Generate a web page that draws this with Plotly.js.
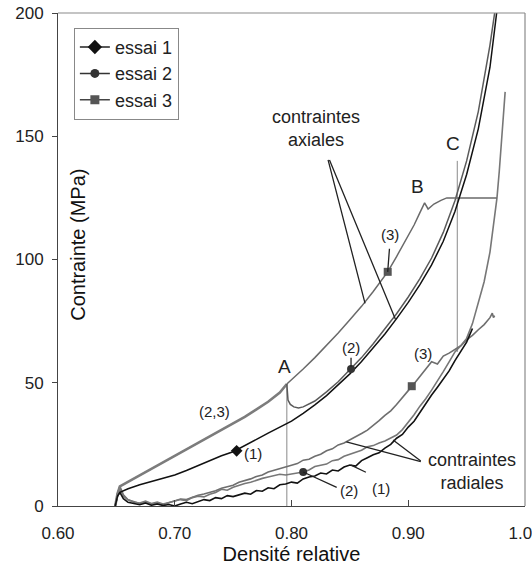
<!DOCTYPE html>
<html>
<head>
<meta charset="utf-8">
<script src="https://cdn.plot.ly/plotly-3.0.1.min.js"></script>
<style>html,body{margin:0;padding:0;background:#fff;}#chart{width:532px;height:568px;}</style>
</head>
<body>
<div id="chart"></div>
<script>
// ---- Axial stress, essai 1 (black) ----
const axial1_x = [0.649,0.651,0.653,0.66,0.67,0.68,0.69,0.70,0.71,0.72,0.73,0.74,0.75,0.76,0.77,0.78,0.79,0.80,0.81,0.82,0.83,0.84,0.85,0.86,0.87,0.88,0.89,0.90,0.91,0.92,0.93,0.94,0.95,0.96,0.97,0.975,0.977];
const axial1_y = [0,4,5.5,7,8.6,10,11.2,12.6,14.4,16.4,18.4,20.4,22,24.4,27,29.6,32,34.4,37.6,41,44.8,49,53.6,58.6,64,69.8,76,82.6,89.8,97.8,107.4,119.5,134.5,153,178,196,205];

// ---- Axial stress, essais 2 & 3 (common part up to point A) ----
const axial23_x = [0.649,0.651,0.653,0.66,0.67,0.68,0.69,0.70,0.71,0.72,0.73,0.74,0.75,0.76,0.77,0.78,0.79,0.796];
const axial23_y = [0,5,8,9.8,12.6,15.2,17.8,20.4,23,25.6,28.2,30.8,33.4,36.2,39.2,42.3,46,49.5];

// ---- Axial stress, essai 2 after A ----
const axial2_x = [0.797,0.799,0.802,0.806,0.81,0.82,0.83,0.84,0.85,0.86,0.87,0.88,0.89,0.90,0.91,0.92,0.93,0.94,0.95,0.96,0.97,0.974,0.976];
const axial2_y = [43,41.2,40.2,39.8,40.2,42.6,46.3,50.4,55.1,60.2,65.8,71.7,78,84.8,92.2,100.6,111,123.8,140,160,187,200,208];

// ---- Axial stress, essai 3 after A (B, plateau) ----
const axial3_x = [0.80,0.81,0.82,0.83,0.84,0.85,0.86,0.87,0.8824,0.89,0.90,0.905,0.91,0.914,0.917,0.922,0.928,0.933,0.976];
const axial3_y = [51.2,55.6,60.2,65,70.2,75.6,81,87,95,101.2,109.6,114,119,123,120.5,122.5,124,125,125];

// ---- Radial stress, essai 1 (black) ----
const radial1_x = [0.649,0.651,0.653,0.656,
  0.660,0.665,0.670,0.675,0.680,0.685,0.690,0.695,
  0.700,0.705,0.710,0.715,0.720,0.725,0.730,0.735,0.740,0.745,
  0.750,0.755,0.760,0.765,0.770,0.775,0.780,0.785,0.790,0.795,
  0.800,0.805,0.810,0.815,0.820,0.825,0.830,0.835,0.840,0.845,
  0.850,0.855,0.860,0.865,0.870,0.875,0.880,0.885,0.890,0.895,
  0.900,0.905,0.910,0.915,0.920,0.925,0.930,0.935,0.940,0.945,
  0.950,0.955];
const radial1_y = [0,4,5.5,3,
  1.5,1.0,0.5,1.2,0.3,0.8,0.2,0.6,
  0.0,0.8,1.5,0.9,1.8,2.6,2.2,3.4,3.0,4.2,
  3.8,4.6,5.2,4.8,6.3,6.0,7.4,7.0,8.6,8.9,
  9.7,9.3,11.0,11.8,12.2,13.4,13.0,14.6,14.2,15.8,
  16.6,16.2,18.4,19.6,20.8,21.6,23.5,25.0,27.5,29.0,
  32.0,34.4,38.0,41.5,45.0,48.2,51.5,54.8,59.0,63.0,
  66.5,72.0];

// ---- Radial stress, essai 2 (grey) ----
const radial2_x = [0.649,0.651,0.653,0.656,
  0.660,0.665,0.670,0.675,0.680,0.685,0.690,0.695,
  0.700,0.705,0.710,0.715,0.720,0.725,0.730,0.735,0.740,0.745,
  0.750,0.755,0.760,0.765,0.770,0.775,0.780,0.785,0.790,0.795,
  0.800,0.805,0.810,0.815,0.820,0.825,0.830,0.835,0.840,0.845,
  0.850,0.855,0.860,0.865,0.870,0.875,0.880,0.885,0.890,0.895,
  0.900,0.905,0.910,0.915,0.920,0.925,0.930,0.935,0.940,0.945,
  0.950,0.955,0.960,0.965,0.970,
  0.973,0.976,0.978,0.980,0.983];
const radial2_y = [0,5,7,4,
  2.5,1.5,1.2,2.0,1.0,1.6,0.8,1.5,
  2.0,2.6,2.2,3.4,4.0,3.7,4.8,5.5,6.8,6.4,
  7.6,8.4,9.1,9.6,10.5,11.2,11.8,12.4,12.9,12.6,
  13.0,13.3,13.8,14.6,16.0,16.5,17.0,18.4,18.8,20.2,
  21.0,21.8,22.6,24.0,24.5,25.6,26.4,27.6,28.8,31.0,
  34.0,37.0,40.5,43.5,47.0,50.5,54.5,58.5,62.5,65.0,
  68.0,74.0,82.0,91.0,103.0,
  113,125,136,148,168];

// ---- Radial stress, essai 3 (grey) ----
const radial3_x = [0.649,0.651,0.653,0.656,
  0.660,0.665,0.670,0.675,0.680,0.685,0.690,0.695,
  0.700,0.705,0.710,0.715,0.720,0.725,0.730,0.735,0.740,0.745,
  0.750,0.755,0.760,0.765,0.770,0.775,0.780,0.785,0.790,0.795,
  0.800,0.805,0.810,0.815,0.820,0.825,0.830,0.835,0.840,0.845,
  0.850,0.855,0.860,0.865,0.870,0.875,0.880,0.885,0.890,0.895,
  0.900,0.905,0.910,0.915,0.920,0.925,0.930,0.935,0.940,0.945,
  0.950,0.955,0.960,0.965,0.970,
  0.972,0.973,0.974];
const radial3_y = [0,5,8,4.5,
  2.5,1.8,1.0,1.5,0.8,1.2,0.5,1.3,
  2.2,2.8,2.6,3.6,4.4,4.9,5.4,6.2,7.2,7.8,
  8.4,9.6,10.2,11.0,12.0,12.6,13.8,14.4,15.2,15.8,
  16.5,17.2,18.6,19.0,20.2,21.0,22.4,23.2,24.8,25.6,
  26.8,28.0,29.4,30.8,32.6,34.6,36.8,38.6,41.2,43.8,
  46.8,49.6,52.5,55.5,58.5,57.6,60.8,62.0,63.6,65.0,
  67.4,69.2,71.5,73.6,76.4,
  78.2,76.4,77.2];

// ---- Marker points (one per curve) ----
const mark1_x = [0.753],        mark1_y = [22.4];
const mark2_x = [0.851, 0.810], mark2_y = [55.6, 13.8];
const mark3_x = [0.8824, 0.903], mark3_y = [95, 48.6];

// ---- Reference lines at A and C ----
const lineA_x = [0.796, 0.796], lineA_y = [0, 49.5];
const lineC_x = [0.942, 0.942], lineC_y = [62.5, 140];

// ---- Ticks ----
const xTicks = [0.6, 0.7, 0.8, 0.9, 1.0];
const xTickText = ['0.60', '0.70', '0.80', '0.90', '1.00'];
const yTicks = [0, 50, 100, 150, 200];
const yTickText = ['0', '50', '100', '150', '200'];

// ---- Labels ----
const seriesNames = ['essai 1', 'essai 2', 'essai 3'];

const FONT = 'Liberation Sans, Arial, sans-serif';

const traces = [
  {x: lineA_x, y: lineA_y, mode: 'lines', line: {color: '#8a8a8a', width: 1}, showlegend: false, hoverinfo: 'skip'},
  {x: lineC_x, y: lineC_y, mode: 'lines', line: {color: '#8a8a8a', width: 1}, showlegend: false, hoverinfo: 'skip'},
  {x: radial3_x, y: radial3_y, mode: 'lines', line: {color: '#6e6e6e', width: 1.6}, showlegend: false},
  {x: radial2_x, y: radial2_y, mode: 'lines', line: {color: '#777777', width: 1.6}, showlegend: false},
  {x: radial1_x, y: radial1_y, mode: 'lines', line: {color: '#111111', width: 1.6}, showlegend: false},
  {x: axial23_x, y: axial23_y, mode: 'lines', line: {color: '#7c7c7c', width: 2.6}, showlegend: false},
  {x: [axial23_x[axial23_x.length-1]].concat(axial2_x), y: [axial23_y[axial23_y.length-1]].concat(axial2_y), mode: 'lines', line: {color: '#5a5a5a', width: 1.5}, showlegend: false},
  {x: [axial23_x[axial23_x.length-1]].concat(axial3_x), y: [axial23_y[axial23_y.length-1]].concat(axial3_y), mode: 'lines', line: {color: '#6a6a6a', width: 1.5}, showlegend: false},
  {x: axial1_x, y: axial1_y, mode: 'lines', line: {color: '#111111', width: 1.5}, showlegend: false},
  {x: mark1_x, y: mark1_y, mode: 'markers', marker: {symbol: 'diamond', size: 9, color: '#111'}, showlegend: false},
  {x: mark2_x, y: mark2_y, mode: 'markers', marker: {symbol: 'circle', size: 8, color: '#333'}, showlegend: false},
  {x: mark3_x, y: mark3_y, mode: 'markers', marker: {symbol: 'square', size: 8, color: '#555'}, showlegend: false},
  // legend entries
  {x: [null], y: [null], name: seriesNames[0], mode: 'lines+markers', line: {color: '#222', width: 1.5}, marker: {symbol: 'diamond', size: 11, color: '#111'}},
  {x: [null], y: [null], name: seriesNames[1], mode: 'lines+markers', line: {color: '#333', width: 1.5}, marker: {symbol: 'circle', size: 9, color: '#333'}},
  {x: [null], y: [null], name: seriesNames[2], mode: 'lines+markers', line: {color: '#444', width: 1.5}, marker: {symbol: 'square', size: 9, color: '#555'}}
];

function lbl(x, y, text, size) {
  return {x: x, y: y, xref: 'x', yref: 'y', text: text, showarrow: false,
          font: {family: FONT, size: size || 15, color: '#222'}};
}
function leader(x0, y0, x1, y1) {
  return {x: x1, y: y1, ax: x0, ay: y0, xref: 'x', yref: 'y', axref: 'x', ayref: 'y',
          text: '', showarrow: true, arrowhead: 0, arrowwidth: 1.3, arrowcolor: '#222',
          standoff: 0, startstandoff: 0};
}

const annotations = [
  lbl(0.794, 56.5, 'A', 19),
  lbl(0.908, 129.5, 'B', 19),
  lbl(0.938, 147, 'C', 19),
  lbl(0.821, 153, 'contraintes<br>axiales', 18),
  lbl(0.955, 14.2, 'contraintes<br>radiales', 18),
  lbl(0.734, 38.5, '(2,3)', 15),
  lbl(0.767, 21.5, '(1)', 15),
  lbl(0.851, 64.5, '(2)', 15),
  lbl(0.884, 110, '(3)', 15),
  lbl(0.913, 61.7, '(3)', 15),
  lbl(0.849, 6.1, '(2)', 15),
  lbl(0.877, 7.3, '(1)', 15),
  leader(0.831, 141, 0.863, 82.2),
  leader(0.832, 141, 0.889, 75.8),
  leader(0.884, 105, 0.8824, 95),
  leader(0.851, 60.8, 0.851, 56.5),
  leader(0.912, 17.8, 0.847, 26),
  leader(0.912, 17.8, 0.887, 26.8),
  leader(0.840, 7.3, 0.810, 13.8),
  leader(0.865, 13.4, 0.851, 16.6),
  {x: 0.043, y: 0.53, xref: 'paper', yref: 'paper', xanchor: 'center', yanchor: 'middle',
   text: 'Contrainte (MPa)', textangle: -90,
   showarrow: false, font: {family: FONT, size: 20, color: '#111'}}
];

const layout = {
  width: 532, height: 568,
  margin: {l: 58, r: 7, t: 13, b: 62},
  paper_bgcolor: '#fff', plot_bgcolor: '#fff',
  font: {family: FONT, color: '#222'},
  xaxis: {
    range: [0.6, 1.0], tickvals: xTicks, ticktext: xTickText,
    ticks: 'inside', ticklen: 6, tickcolor: '#444', showline: true, linecolor: '#444', linewidth: 1,
    showgrid: false, zeroline: false, tickfont: {family: FONT, size: 17, color: '#222'},
    ticklabelstandoff: 12, ticklabeloverflow: 'allow',
    title: {text: 'Densité relative', font: {family: FONT, size: 20, color: '#111'}, standoff: 0}
  },
  yaxis: {
    range: [0, 200], tickvals: yTicks, ticktext: yTickText,
    ticks: 'outside', ticklen: 5, tickcolor: '#444', showline: true, linecolor: '#444', linewidth: 1,
    showgrid: false, zeroline: false, tickfont: {family: FONT, size: 17, color: '#222'},
    ticklabelstandoff: 5
  },
  shapes: [
    {type: 'line', xref: 'paper', yref: 'paper', x0: 0, x1: 1, y0: 1, y1: 1, line: {color: '#8a8a8a', width: 1.2}},
    {type: 'line', xref: 'paper', yref: 'paper', x0: 1, x1: 1, y0: 0, y1: 1, line: {color: '#8a8a8a', width: 1.2}}
  ],
  legend: {
    x: 0.034, y: 0.97, xanchor: 'left', yanchor: 'top',
    bgcolor: '#fff', bordercolor: '#888', borderwidth: 1,
    font: {family: FONT, size: 18, color: '#222'},
    itemwidth: 30, tracegroupgap: 0
  },
  annotations: annotations,
  showlegend: true
};

Plotly.newPlot('chart', traces, layout, {displayModeBar: false, staticPlot: true});
</script>
</body>
</html>
